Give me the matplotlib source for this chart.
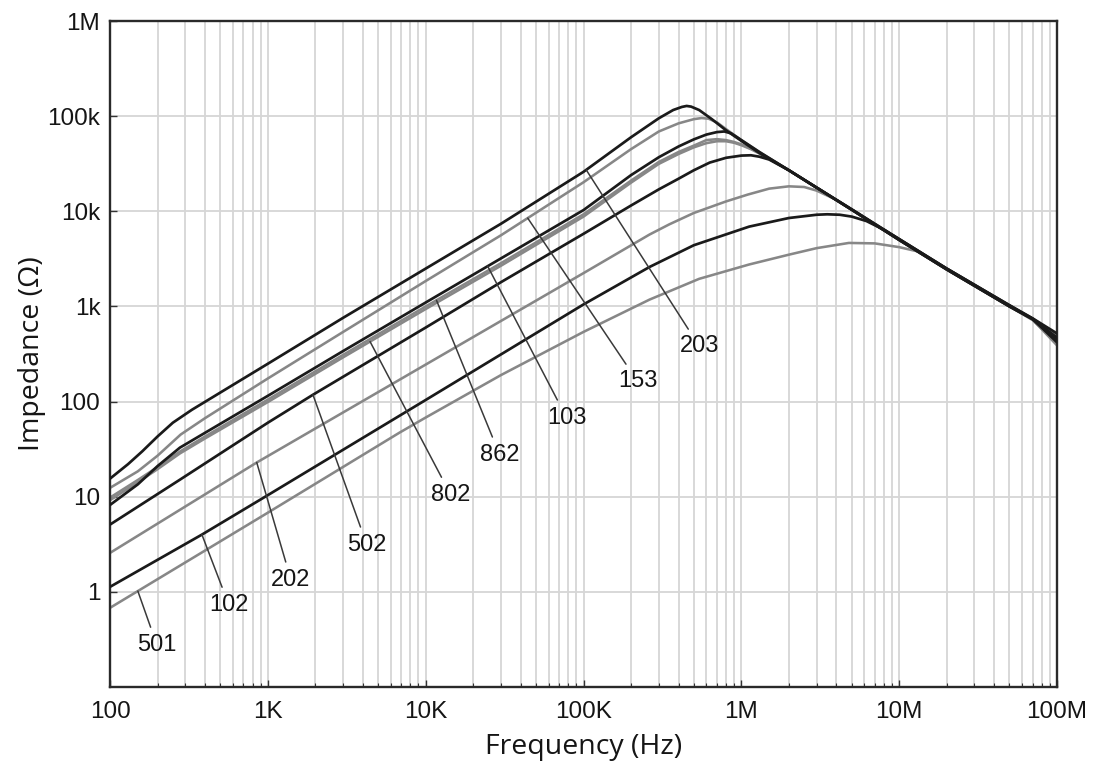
import numpy as np
import matplotlib.pyplot as plt
from matplotlib.ticker import FixedLocator, LogLocator, NullFormatter

# impedance curves (frequency in Hz, impedance in ohm)
f_203 = [100, 130, 160, 200, 250, 330, 1e3, 3e3, 1e4, 3e4, 1e5, 2e5, 3e5, 3.7e5, 4.2e5, 4.5e5,
         4.8e5, 5.4e5, 6.5e5, 8e5, 1e6, 1.3e6, 2e6, 5e6, 1e7, 2e7, 5e7, 7e7, 1e8]
z_203 = [15.5, 22, 30, 43, 60, 82, 250, 760, 2.5e3, 7.4e3, 26e3, 60e3, 95e3, 116e3, 125e3, 128e3,
         126e3, 116e3, 93e3, 71e3, 55e3, 41e3, 27e3, 10.5e3, 5.1e3, 2.5e3, 1.03e3, 750, 520]

f_153 = [100, 150, 200, 280, 400, 1e3, 3e3, 1e4, 3e4, 1e5, 2e5, 3e5, 4e5, 5e5, 5.6e5, 6.2e5,
         7e5, 8e5, 1e6, 1.3e6, 2e6, 5e6, 1e7, 2e7, 5e7, 7e7, 1e8]
z_153 = [12.4, 18.5, 27, 45, 67, 175, 540, 1.85e3, 5.6e3, 20.2e3, 45e3, 69e3, 84e3, 93e3, 95.5e3, 94e3,
         86e3, 73e3, 56e3, 42e3, 27e3, 10.4e3, 5.05e3, 2.45e3, 1.02e3, 740, 480]

f_103 = [100, 150, 200, 277, 400, 1e3, 3e3, 1e4, 3e4, 1e5, 2e5, 3e5, 4e5, 5e5, 6e5, 7e5,
         7.8e5, 8.6e5, 1e6, 1.3e6, 2e6, 5e6, 1e7, 2e7, 5e7, 7e7, 1e8]
z_103 = [8.2, 13.5, 21, 32.8, 47, 115, 340, 1.1e3, 3.2e3, 10.3e3, 24e3, 37e3, 48e3, 57e3, 64e3, 68e3,
         69e3, 66e3, 56e3, 42e3, 27e3, 10.4e3, 5.0e3, 2.45e3, 1.0e3, 735, 450]

f_862 = [100, 150, 200, 277, 400, 1e3, 3e3, 1e4, 3e4, 1e5, 2e5, 3e5, 4e5, 5e5, 6e5, 7e5,
         8e5, 9e5, 1e6, 1.15e6, 1.4e6, 2e6, 5e6, 1e7, 2e7, 5e7, 7e7, 1e8]
z_862 = [9.8, 15, 20.5, 29.8, 43, 105, 310, 1.0e3, 2.85e3, 9.3e3, 21e3, 33e3, 42e3, 49e3, 56e3, 57.3e3,
         56e3, 53.5e3, 50.5e3, 45.5e3, 38.5e3, 27e3, 10.4e3, 5.0e3, 2.45e3, 1.0e3, 730, 430]

f_802 = [100, 150, 200, 277, 400, 1e3, 3e3, 1e4, 3e4, 1e5, 2e5, 3e5, 4e5, 5e5, 6e5, 7e5,
         8e5, 9e5, 1e6, 1.15e6, 1.4e6, 2e6, 5e6, 1e7, 2e7, 5e7, 7e7, 1e8]
z_802 = [9.2, 14.2, 19.5, 28.5, 41, 99, 292, 0.94e3, 2.68e3, 8.8e3, 20e3, 31.5e3, 40e3, 47e3, 52e3, 54.5e3,
         54.5e3, 52.5e3, 49.5e3, 45e3, 38e3, 27e3, 10.4e3, 5.0e3, 2.45e3, 1.0e3, 720, 410]

f_502 = [100, 277, 1e3, 1.93e3, 1e4, 3e4, 1e5, 2e5, 3e5, 4e5, 5e5, 6.3e5, 8e5, 1e6, 1.15e6,
         1.3e6, 1.5e6, 2e6, 5e6, 1e7, 2e7, 5e7, 7e7, 1e8]
z_502 = [5.1, 15.1, 60, 118, 600, 1.8e3, 5.8e3, 11.5e3, 17e3, 22e3, 27e3, 32.5e3, 36.5e3, 38.5e3, 38.8e3,
         37.5e3, 35e3, 27e3, 10.4e3, 5.0e3, 2.45e3, 1.0e3, 740, 470]

f_202 = [100, 850, 1e4, 1e5, 2.62e5, 3.5e5, 5e5, 8e5, 1.1e6, 1.5e6, 2e6, 2.5e6, 3e6, 4e6,
         5e6, 1e7, 2e7, 5e7, 7e7, 1e8]
z_202 = [2.57, 22.9, 245, 2.24e3, 5.7e3, 7.3e3, 9.6e3, 12.7e3, 15e3, 17.3e3, 18.3e3, 18e3, 16.5e3, 13.2e3,
         10.5e3, 5.1e3, 2.5e3, 1.03e3, 750, 500]

f_102 = [100, 382, 1e3, 1e4, 1e5, 2.62e5, 5e5, 1.12e6, 2e6, 3e6, 3.5e6, 4.2e6, 5e6, 6.2e6,
         8e6, 1e7, 2e7, 5e7, 7e7, 1e8]
z_102 = [1.13, 4.0, 10.4, 104, 1.05e3, 2.6e3, 4.4e3, 6.9e3, 8.5e3, 9.2e3, 9.3e3, 9.2e3, 8.8e3, 7.9e3,
         6.4e3, 5.1e3, 2.5e3, 1.02e3, 740, 420]

f_501 = [100, 1e3, 6.8e3, 1e4, 3e4, 1e5, 2.62e5, 5.4e5, 1.12e6, 2e6, 3e6, 4.8e6, 7e6, 1e7, 1.3e7,
         2e7, 5e7, 7e7, 1e8]
z_501 = [0.68, 6.8, 47, 68, 190, 540, 1.18e3, 1.95e3, 2.76e3, 3.5e3, 4.1e3, 4.65e3, 4.6e3, 4.2e3, 3.8e3,
         2.5e3, 1.02e3, 730, 390]

names = ["501", "102", "202", "502", "802", "862", "103", "153", "203"]
freqs = [f_501, f_102, f_202, f_502, f_802, f_862, f_103, f_153, f_203]
imps = [z_501, z_102, z_202, z_502, z_802, z_862, z_103, z_153, z_203]
dark = [False, True, False, True, False, False, True, False, True]

# where each leader line touches its curve, and where its label sits
touch_f = [150, 382, 850, 1.93e3, 4.44e3, 11.7e3, 24.7e3, 44.3e3, 104e3]
label_f = [198, 566, 1.4e3, 4.24e3, 14.4e3, 29.4e3, 78e3, 220e3, 542e3]
label_z = [0.277, 0.73, 1.34, 3.13, 10.5, 27.7, 68, 163, 380]

x_ticks = [1e2, 1e3, 1e4, 1e5, 1e6, 1e7, 1e8]
x_labels = ["100", "1K", "10K", "100K", "1M", "10M", "100M"]
y_ticks = [1, 10, 1e2, 1e3, 1e4, 1e5, 1e6]
y_labels = ["1", "10", "100", "1k", "10k", "100k", "1M"]

BLACK = "#1a1a1a"
GRAY = "#878787"
GRID = "#d6d6d6"
TXT = "#151515"

fig = plt.figure(figsize=(10.95, 7.61), dpi=100)
ax = fig.add_axes([0.1005, 0.0972, 0.8648, 0.8752])
ax.set_xscale("log")
ax.set_yscale("log")
ax.set_xlim(1e2, 1e8)
ax.set_ylim(0.1, 1e6)

for f, z, d in zip(freqs, imps, dark):
    ax.plot(f, z, color=BLACK if d else GRAY, lw=1.95 if d else 1.85,
            solid_capstyle="round", solid_joinstyle="round", zorder=3 if d else 2)

for name, f, z, tf, lf, lz in zip(names, freqs, imps, touch_f, label_f, label_z):
    tz = 10 ** np.interp(np.log10(tf), np.log10(f), np.log10(z))
    ax.annotate(name, xy=(tf, tz), xytext=(lf, lz), ha="center", va="center",
                fontsize=17, family="Liberation Sans", color=TXT, zorder=4,
                arrowprops=dict(arrowstyle="-", color="#3a3a3a", lw=1.1,
                                shrinkA=3, shrinkB=0))

ax.xaxis.set_major_locator(FixedLocator(x_ticks))
ax.xaxis.set_minor_locator(LogLocator(base=10, subs=np.arange(2, 10), numticks=20))
ax.xaxis.set_minor_formatter(NullFormatter())
ax.set_xticklabels(x_labels)
ax.yaxis.set_major_locator(FixedLocator(y_ticks))
ax.yaxis.set_minor_locator(FixedLocator([]))
ax.set_yticklabels(y_labels)

ax.grid(True, which="major", color=GRID, lw=1.3, zorder=0)
ax.grid(True, which="minor", axis="x", color=GRID, lw=1.3, zorder=0)
ax.set_axisbelow(True)

ax.tick_params(which="both", direction="in", color="#333333", labelsize=17.5,
               labelcolor=TXT)
ax.tick_params(which="major", length=5, width=1)
ax.tick_params(which="minor", length=3, width=0.8)
ax.tick_params(axis="x", pad=10)
ax.tick_params(axis="y", pad=7)
for lab in ax.get_xticklabels() + ax.get_yticklabels():
    lab.set_family("Liberation Sans")

for sp in ax.spines.values():
    sp.set_color("#2a2a2a")
    sp.set_linewidth(1.7)

ax.set_xlabel("Frequency (Hz)", fontsize=20.5, family="Open Sans", color=TXT, labelpad=7)
ax.set_ylabel("Impedance (\u03a9)", fontsize=20.5, family="Open Sans", color=TXT, labelpad=1)

fig.savefig("out.png", dpi=100)
